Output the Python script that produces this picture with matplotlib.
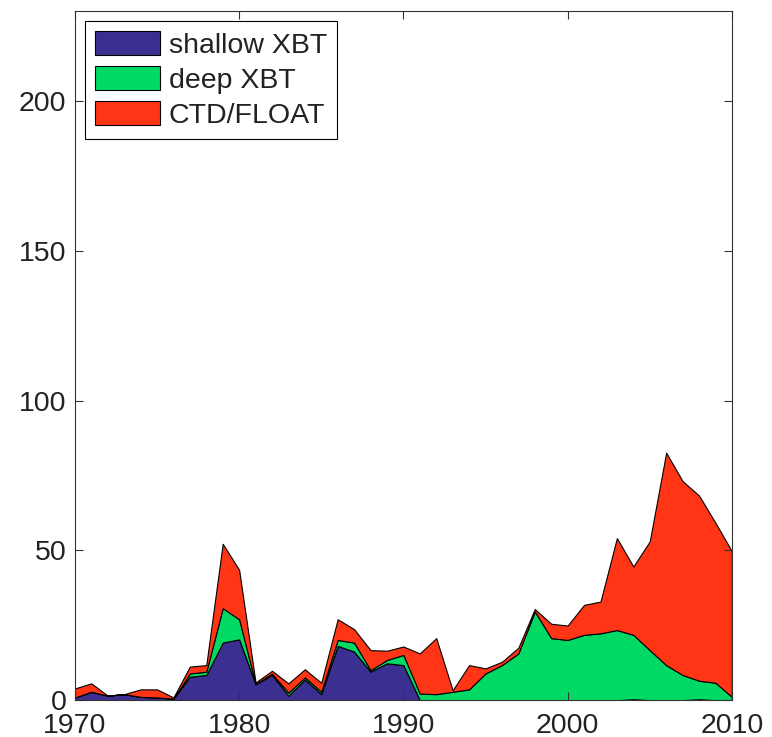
import numpy as np
import matplotlib
matplotlib.use('Agg')
import matplotlib.pyplot as plt

plt.rcParams['font.family'] = ['Liberation Sans', 'DejaVu Sans']

years = list(range(1970, 2011))

# yearly counts (layer heights, not cumulative)
shallow_xbt = [0.9, 2.8, 1.5, 2.0, 1.1, 0.9, 0.5, 7.8, 8.4, 19.2,
               20.3, 5.3, 8.4, 1.5, 6.9, 2.0, 18.1, 16.2, 9.5, 12.3,
               11.7, 0.0, 0.0, 0.0, 0.0, 0.0, 0.0, 0.0, 0.0, 0.0,
               0.0, 0.0, 0.0, 0.0, 0.3, 0.0, 0.0, 0.0, 0.3, 0.0,
               0.0]
deep_xbt_top = [0.9, 2.8, 1.5, 2.0, 1.1, 0.9, 0.5, 8.9, 9.5, 30.7,
                27.0, 5.4, 8.8, 2.5, 7.6, 2.8, 20.1, 19.2, 10.0, 13.4,
                15.1, 2.2, 2.0, 2.8, 3.6, 8.9, 11.7, 15.6, 29.6, 20.7,
                20.1, 21.8, 22.3, 23.4, 21.8, 16.7, 11.7, 8.4, 6.5, 5.8,
                1.1]
total = [3.9, 5.6, 1.5, 2.0, 3.6, 3.6, 0.9, 11.2, 11.7, 52.2,
         43.5, 5.9, 9.8, 5.6, 10.3, 5.8, 27.0, 23.7, 16.7, 16.5,
         17.9, 15.6, 20.7, 3.3, 11.7, 10.6, 12.8, 17.5, 30.4, 25.5,
         24.9, 31.8, 32.9, 54.1, 44.6, 53.0, 82.6, 73.1, 68.3, 59.2,
         49.7]

shallow_xbt = np.array(shallow_xbt)
deep_xbt = np.array(deep_xbt_top) - shallow_xbt
ctd_float = np.array(total) - np.array(deep_xbt_top)

labels = ['shallow XBT', 'deep XBT', 'CTD/FLOAT']
colors = ['#3b2f91', '#00d964', '#ff3516']

fig = plt.figure(figsize=(7.72, 7.37), dpi=100)
ax = fig.add_axes([0.097, 0.05, 0.851, 0.935])

ax.stackplot(years, shallow_xbt, deep_xbt, ctd_float,
             labels=labels, colors=colors,
             edgecolor='black', linewidth=0.8)

ax.set_xlim(1970, 2010)
ax.set_ylim(0, 230)
ax.set_xticks([1970, 1980, 1990, 2000, 2010])
ax.set_yticks([0, 50, 100, 150, 200])
ax.tick_params(direction='in', top=True, right=True, labelsize=20.5,
               length=6, width=0.8, color='#333333', labelcolor='#222222')
ax.tick_params(axis='x', pad=9)
ax.tick_params(axis='y', pad=6)
for sp in ax.spines.values():
    sp.set_color('#333333')
    sp.set_linewidth(0.8)

leg = ax.legend(loc='upper left', fontsize=20.5, fancybox=False,
                edgecolor='black', framealpha=1, handlelength=2.3,
                handleheight=0.92, labelspacing=0.26, handletextpad=0.3,
                borderpad=0.35, borderaxespad=0.35)
leg.get_frame().set_linewidth(0.8)
for t in leg.get_texts():
    t.set_color('#222222')

plt.savefig('out.png')
plt.close()
